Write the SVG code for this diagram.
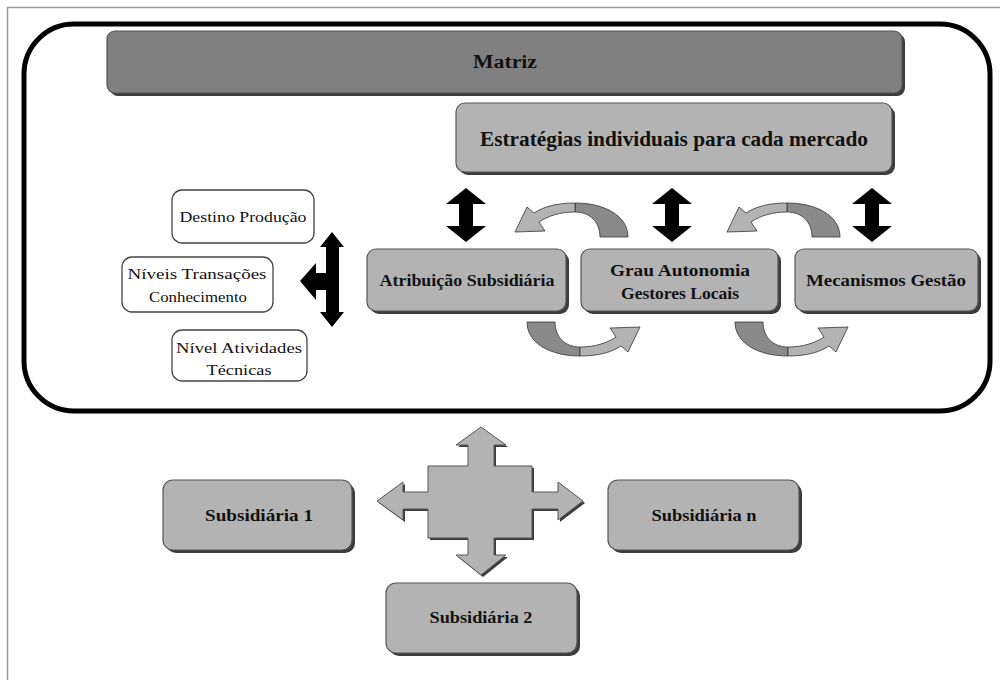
<svg xmlns="http://www.w3.org/2000/svg" width="1000" height="680" viewBox="0 0 1000 680">
<style>
.frame{fill:none;stroke:#9a9a9a;stroke-width:1.5}
.big{fill:none;stroke:#000;stroke-width:5}
.box{fill:#b3b3b3;stroke:#555;stroke-width:1.2}
.dark{fill:#808080;stroke:#555;stroke-width:1.2}
.shadow{fill:#3c3c3c}
.wbox{fill:#fff;stroke:#444;stroke-width:1.3}
.t{font-family:"Liberation Serif","Times New Roman",serif;font-weight:bold;fill:#111;text-anchor:middle}
.r{font-family:"Liberation Serif","Times New Roman",serif;fill:#111;text-anchor:middle;font-size:15.5px}
.blk{fill:#000}
.lt{fill:#b3b3b3;stroke:#333;stroke-width:0.8}
.dk{fill:#8a8a8a;stroke:#333;stroke-width:0.8}
</style>
<defs>
<polygon id="vdbl" points="0,0 20,16 7,16 7,38 20,38 0,54 -20,38 -7,38 -7,16 -20,16"/>
<g id="curv">
<path class="dk" d="M575,203 C605,203 628,216 628,237 L600,237 C600,222 590,212 575,212 Z"/>
<path class="lt" d="M575,203 C556,203 543,207 534,213 L527,207 L515,232 L545,231 L539,222 C548,216 560,212 575,212 Z"/>
</g>
</defs>
<rect class="frame" x="7.5" y="7.5" width="1010" height="700"/>
<rect class="big" x="24" y="24" width="966" height="387" rx="50" ry="50"/>

<g id="matriz">
<rect class="shadow" x="110" y="34" width="795" height="62" rx="8"/>
<rect class="dark" x="107" y="31" width="795" height="62" rx="8"/>
<text class="t" x="505" y="68" font-size="18" textLength="64" lengthAdjust="spacingAndGlyphs">Matriz</text>
</g>
<g id="estrategias">
<rect class="shadow" x="459" y="106" width="436" height="69" rx="9"/>
<rect class="box" x="456" y="103" width="436" height="69" rx="9"/>
<text class="t" x="674" y="146" font-size="20" textLength="388" lengthAdjust="spacingAndGlyphs">Estratégias individuais para cada mercado</text>
</g>
<g id="destino">
<rect class="wbox" x="172" y="190" width="142" height="53" rx="10"/>
<text class="r" x="243" y="222" textLength="127" lengthAdjust="spacingAndGlyphs">Destino Produção</text>
</g>
<g id="niveis">
<rect class="wbox" x="122" y="257" width="151" height="55" rx="10"/>
<text class="r" x="197" y="279" textLength="139" lengthAdjust="spacingAndGlyphs">Níveis Transações</text>
<text class="r" x="198" y="302" textLength="98" lengthAdjust="spacingAndGlyphs">Conhecimento</text>
</g>
<g id="nivel">
<rect class="wbox" x="172" y="330" width="135" height="51" rx="10"/>
<text class="r" x="239" y="353" textLength="126" lengthAdjust="spacingAndGlyphs">Nível Atividades</text>
<text class="r" x="239" y="375" textLength="65" lengthAdjust="spacingAndGlyphs">Técnicas</text>
</g>
<g id="atribuicao">
<rect class="shadow" x="370" y="252" width="199" height="62" rx="9"/>
<rect class="box" x="367" y="249" width="199" height="62" rx="9"/>
<text class="t" x="467" y="286" font-size="16" textLength="175" lengthAdjust="spacingAndGlyphs">Atribuição Subsidiária</text>
</g>
<g id="grau">
<rect class="shadow" x="584" y="252" width="197" height="62" rx="9"/>
<rect class="box" x="581" y="249" width="197" height="62" rx="9"/>
<text class="t" x="680" y="276" font-size="16" textLength="140" lengthAdjust="spacingAndGlyphs">Grau Autonomia</text>
<text class="t" x="680" y="299" font-size="16" textLength="118" lengthAdjust="spacingAndGlyphs">Gestores Locais</text>
</g>
<g id="mecanismos">
<rect class="shadow" x="798" y="252" width="183" height="62" rx="9"/>
<rect class="box" x="795" y="249" width="183" height="62" rx="9"/>
<text class="t" x="886" y="286" font-size="16" textLength="160" lengthAdjust="spacingAndGlyphs">Mecanismos Gestão</text>
</g>
<g id="sub1">
<rect class="shadow" x="166" y="483" width="189" height="70" rx="10"/>
<rect class="box" x="163" y="480" width="189" height="70" rx="10"/>
<text class="t" x="259" y="521" font-size="16" textLength="108" lengthAdjust="spacingAndGlyphs">Subsidiária 1</text>
</g>
<g id="subn">
<rect class="shadow" x="611" y="483" width="191" height="70" rx="10"/>
<rect class="box" x="608" y="480" width="191" height="70" rx="10"/>
<text class="t" x="704" y="521" font-size="16" textLength="105" lengthAdjust="spacingAndGlyphs">Subsidiária n</text>
</g>
<g id="sub2">
<rect class="shadow" x="389" y="586" width="191" height="70" rx="10"/>
<rect class="box" x="386" y="583" width="191" height="70" rx="10"/>
<text class="t" x="481" y="623" font-size="16" textLength="103" lengthAdjust="spacingAndGlyphs">Subsidiária 2</text>
</g>

<g id="connectors">
<use href="#vdbl" class="blk" x="466" y="188"/>
<use href="#vdbl" class="blk" x="672" y="188"/>
<use href="#vdbl" class="blk" x="872" y="188"/>
<polygon class="blk" points="332,232 344,247 339,247 339,312 344,312 332,327 320,312 326,312 326,290 316,290 316,300 300,281 316,263 316,273 326,273 326,247 320,247"/>
<use href="#curv"/>
<use href="#curv" transform="translate(212 0)"/>
<use href="#curv" transform="rotate(180 577.5 279.5)"/>
<use href="#curv" transform="translate(208 0) rotate(180 577.5 279.5)"/>
<polygon fill="#3c3c3c" transform="translate(2 2)" points="481,427 506,445 494,445 494,466 532,466 532,492 558,492 558,482 583,501 558,520 558,509 532,509 532,538 494,538 494,555 506,555 481,575 456,555 468,555 468,538 428,538 428,509 403,509 403,520 377,501 403,482 403,492 428,492 428,466 468,466 468,445 456,445"/>
<polygon fill="#b3b3b3" stroke="#555" stroke-width="1" points="481,427 506,445 494,445 494,466 532,466 532,492 558,492 558,482 583,501 558,520 558,509 532,509 532,538 494,538 494,555 506,555 481,575 456,555 468,555 468,538 428,538 428,509 403,509 403,520 377,501 403,482 403,492 428,492 428,466 468,466 468,445 456,445"/>
</g>
</svg>
